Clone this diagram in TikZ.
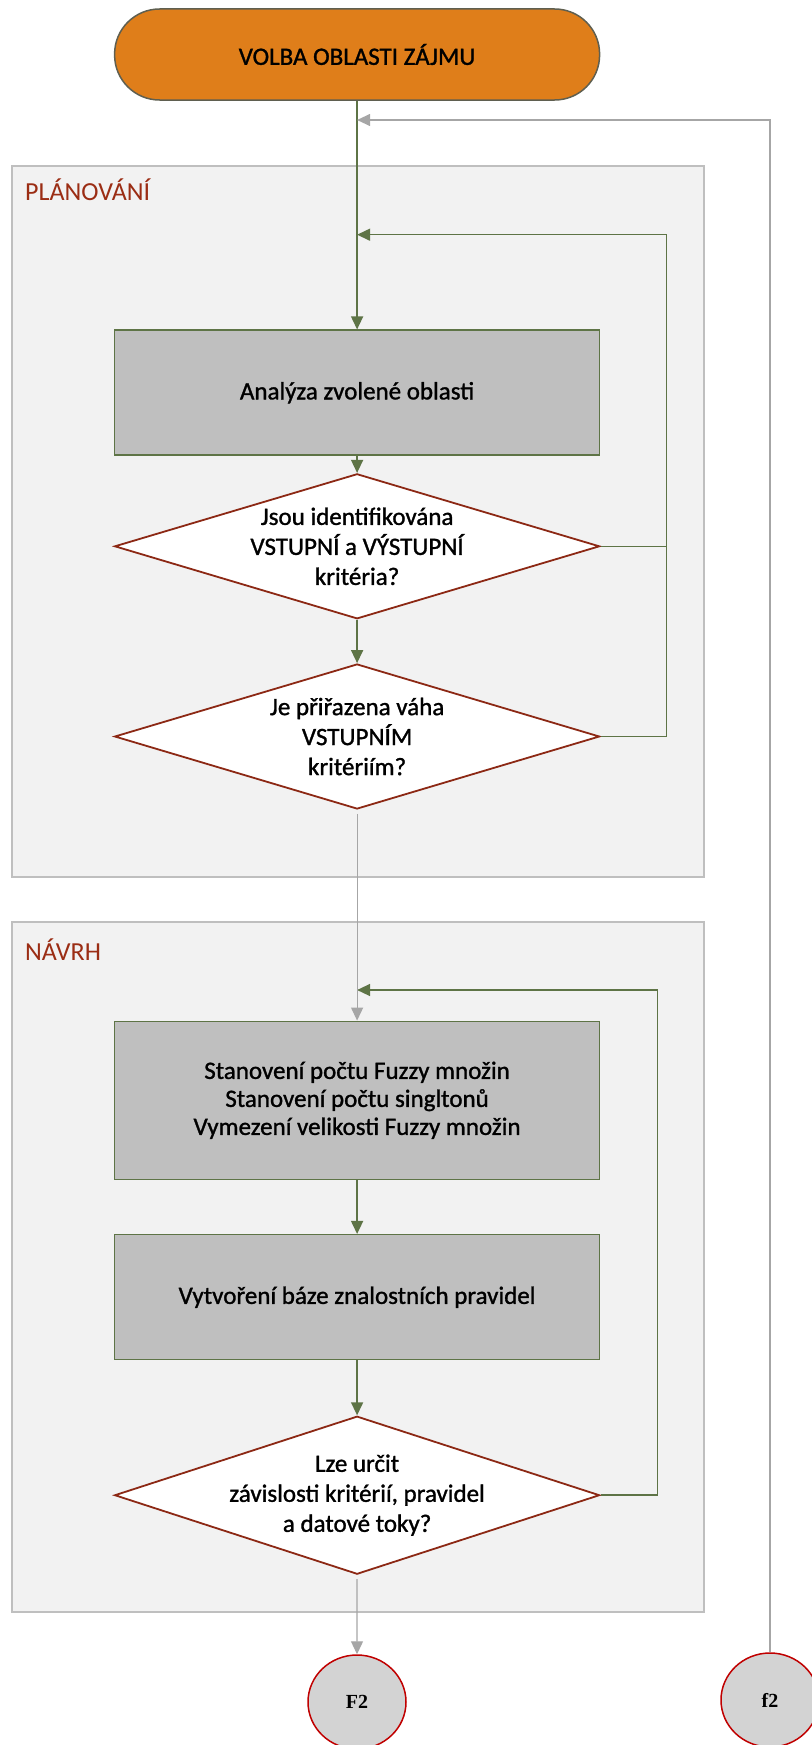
\documentclass[tikz,border=0pt]{standalone}
\usepackage{fontspec}
\setmainfont{Carlito}[FakeBold=1.2]
\newfontfamily\phasefont{Carlito}
\newfontfamily\refserif{Liberation Serif}
\usetikzlibrary{shapes.geometric, arrows.meta}

\definecolor{termfill}{RGB}{223,126,26}
\definecolor{termdraw}{RGB}{95,95,80}
\definecolor{stepfill}{RGB}{191,191,191}
\definecolor{olivegreen}{RGB}{94,116,70}
\definecolor{rust}{RGB}{140,40,20}
\definecolor{phasefill}{RGB}{242,242,242}
\definecolor{phasedraw}{RGB}{191,191,191}
\definecolor{phasetext}{RGB}{155,45,20}
\definecolor{linkgrey}{RGB}{166,166,166}
\definecolor{refred}{RGB}{192,0,0}
\definecolor{reffill}{RGB}{211,211,211}

\tikzset{
  phase/.style={rectangle, draw=phasedraw, fill=phasefill, line width=2pt, inner sep=0pt},
  phaselabel/.style={anchor=base west, inner sep=0pt, text=phasetext, font=\phasefont\fontsize{26}{30}\selectfont},
  terminal/.style={rectangle, rounded corners=45pt, draw=termdraw, fill=termfill, line width=1.5pt,
    minimum width=485pt, minimum height=91pt, inner sep=0pt, font=\fontsize{25}{30}\selectfont},
  stepbox/.style={rectangle, draw=olivegreen, fill=stepfill, line width=1.5pt, minimum width=485pt,
    inner sep=0pt, align=center, font=\fontsize{25}{28}\selectfont},
  decision/.style={diamond, draw=rust, fill=white, line width=1.8pt, minimum width=485pt,
    minimum height=145pt, inner sep=0pt},
  dtext/.style={align=center, inner sep=0pt, font=\fontsize{25}{30}\selectfont},
  tip/.style={-{Triangle[length=13pt,width=12pt]}},
  flow/.style={draw=olivegreen, line width=1.5pt},
  link/.style={draw=linkgrey, line width=1.2pt},
  offpage/.style={ellipse, draw=refred, fill=reffill, line width=1.5pt, minimum width=98pt,
    minimum height=94pt, inner sep=0pt, font=\refserif\bfseries\fontsize{20}{24}\selectfont},
}

\begin{document}
\begin{tikzpicture}[x=1pt, y=-1pt]
  \useasboundingbox (0,0) rectangle (811,1745);

  % phase containers
  \node[phase, minimum width=692pt, minimum height=711pt] (plan) at (358.2,521.2) {};
  \node[phaselabel] (planlbl) at (25,200) {PLÁNOVÁNÍ};
  \node[phase, minimum width=692pt, minimum height=690pt] (design) at (358.2,1267) {};
  \node[phaselabel] (designlbl) at (25,960) {NÁVRH};

  % start
  \node[terminal] (term) at (357.1,54.5) {VOLBA OBLASTI ZÁJMU};

  % planning steps
  \node[stepbox, minimum height=125pt] (box1) at (357.1,392.7) {Analýza zvolené oblasti};
  \node[decision, label={[dtext]center:{Jsou identifikována\\VSTUPNÍ a VÝSTUPNÍ\\kritéria?}}]
    (d1) at (357.1,546.3) {};
  \node[decision, label={[dtext]center:{Je přiřazena váha\\VSTUPNÍM\\kritériím?}}]
    (d2) at (357.1,736.5) {};

  % design steps
  \node[stepbox, minimum height=158pt] (box2) at (357.1,1100.3)
    {Stanovení počtu Fuzzy množin\\Stanovení počtu singltonů\\Vymezení velikosti Fuzzy množin};
  \node[stepbox, minimum height=125pt] (box3) at (357.1,1297.2) {Vytvoření báze znalostních pravidel};
  \node[decision, minimum height=158pt,
    label={[dtext]center:{Lze určit\\závislosti kritérií, pravidel\\a datové toky?}}]
    (d3) at (357.1,1495.2) {};

  % off-page connectors
  \node[offpage] (F2) at (357,1702) {F2};
  \node[offpage] (f2) at (770,1700) {f2};

  % routing points
  \coordinate (ret) at (770,120);
  \coordinate (loopA) at (666.4,234.7);
  \coordinate (loopB) at (657.5,990);

  % main flow
  \draw[flow, tip] (term.south) -- (box1.north);
  \draw[flow, tip] (box1.south) -- (d1.north);
  \draw[flow, tip] (d1.south) -- (d2.north);
  \draw[flow, tip] (box2.south) -- (box3.north);
  \draw[flow, tip] (box3.south) -- (d3.north);

  % feedback loops
  \draw[flow, tip] (d2.east) -| (loopA) -- (loopA -| box1.north);
  \draw[flow] (d1.east) -- (d1.east -| loopA);
  \draw[flow, tip] (d3.east) -| (loopB) -- (loopB -| box2.north);

  % grey links
  \draw[link, tip, shorten <=4pt] (d2.south) -- (box2.north);
  \draw[link, tip, shorten <=4pt] (d3.south) -- (F2.north);
  \draw[link, tip] (f2.north) -- (ret) -- (ret -| term.south);
\end{tikzpicture}
\end{document}
